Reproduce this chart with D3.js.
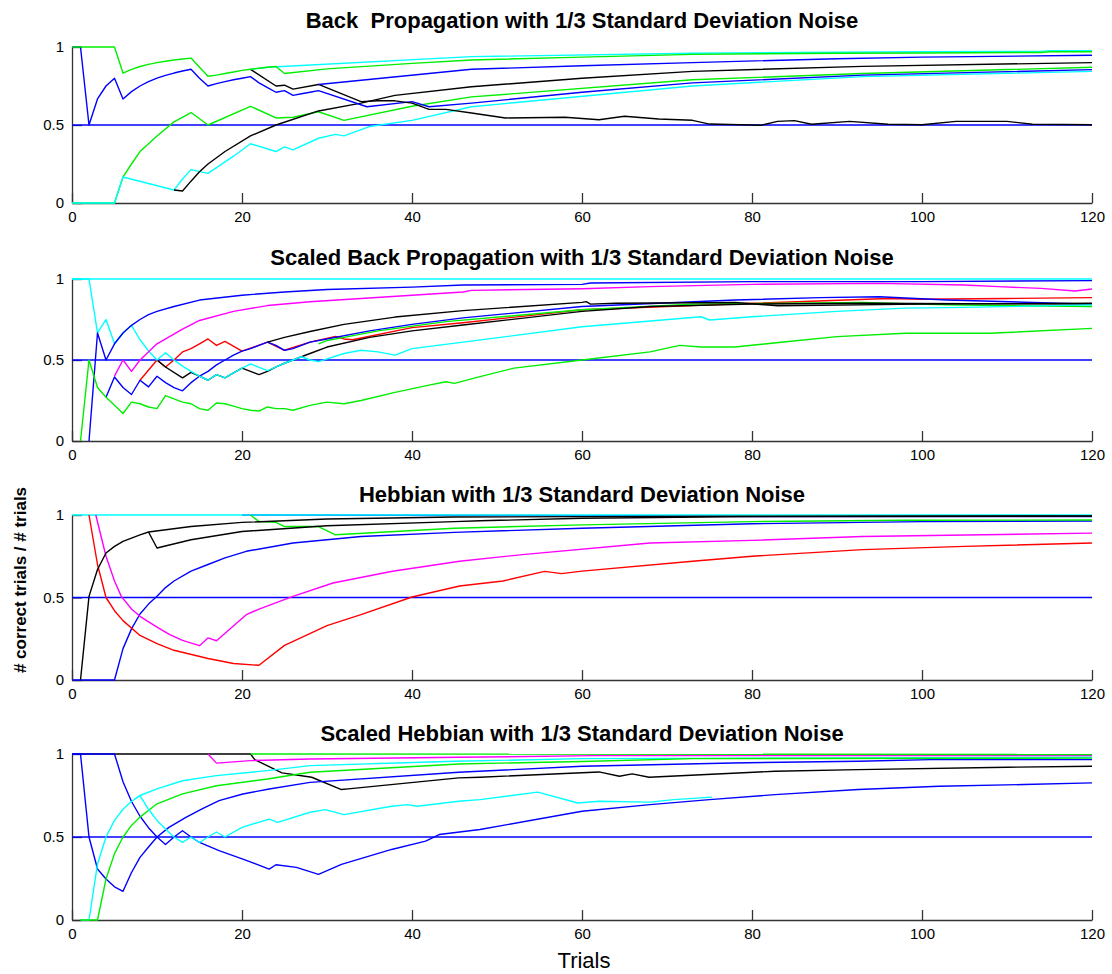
<!DOCTYPE html>
<html><head><meta charset="utf-8">
<script src="https://cdn.jsdelivr.net/npm/d3@7"></script>
<style>
body{margin:0;background:#fff}
svg{display:block;font-family:"Liberation Sans",Arial,sans-serif}
</style>
</head><body>
<svg id="c" width="1112" height="974"></svg>
<script>
// ---------- tick labels / text ----------
const xTicks = [0, 20, 40, 60, 80, 100, 120];
const yTicks = [0, 0.5, 1];
const yTickLabels = ["0", "0.5", "1"];
const titles = [
  "Back  Propagation with 1/3 Standard Deviation Noise",
  "Scaled Back Propagation with 1/3 Standard Deviation Noise",
  "Hebbian with 1/3 Standard Deviation Noise",
  "Scaled Hebbian with 1/3 Standard Deviation Noise"
];
const xLabel = "Trials";
const yLabel = "# correct trials / # trials";
const chanceLevel = [[0, 0.5], [120, 0.5]];

// ---------- Panel 1: Back Propagation ----------
const bpGreenA = [[0,1],[5,1],[6,0.833],[7,0.857],[8,0.875],[9,0.889],[10,0.9],[11,0.909],[12,0.917],[13,0.923],[14,0.929],[15,0.87],[16,0.8125],[17,0.82],[18,0.83],[19,0.84],[20,0.85],[21,0.857],[22,0.864],[23,0.87],[24,0.875],[25,0.83],[30,0.86],[40,0.895],[47,0.917],[60,0.935],[73,0.953],[90,0.96],[100,0.962],[114,0.965],[115,0.97],[120,0.97]];
const bpCyanB = [[21,0.857],[23,0.87],[47,0.938],[73,0.96],[100,0.97],[114,0.972],[115,0.977],[120,0.977]];
const bpBlueA = [[0,1],[1,1],[2,0.5],[3,0.667],[4,0.75],[5,0.8],[6,0.667],[7,0.714],[8,0.75],[9,0.778],[10,0.8],[11,0.818],[12,0.833],[13,0.846],[14,0.857],[15,0.8],[16,0.75],[17,0.765],[18,0.778],[19,0.79],[20,0.8],[21,0.81],[22,0.77],[23,0.74],[24,0.71],[25,0.72],[26,0.69],[27,0.70],[28,0.71],[29,0.72],[34.7,0.617],[40,0.65],[42,0.617],[47,0.64],[60,0.71],[73,0.77],[93,0.82],[120,0.855]];
const bpBlackB = [[21,0.857],[24,0.75],[25,0.755],[26,0.73],[29,0.76],[34,0.65],[36,0.655],[38,0.655],[40,0.64],[42,0.6],[44,0.6],[47,0.577],[51,0.545],[58,0.55],[62,0.534],[65,0.556],[69,0.538],[73,0.53],[75,0.506],[81,0.498],[83,0.523],[85,0.528],[87,0.505],[91.5,0.523],[96,0.505],[100,0.502],[104,0.523],[110,0.523],[113,0.505],[120,0.502]];
const bpBlueB = [[29,0.76],[47,0.857],[60,0.88],[73,0.9],[90,0.925],[100,0.935],[120,0.947]];
const bpBlackA = [[12,0.083],[13,0.077],[14,0.14],[15,0.2],[16,0.25],[18,0.33],[21,0.43],[24,0.5],[29,0.59],[34,0.64],[38,0.69],[47,0.745],[60,0.8],[73,0.844],[93,0.876],[120,0.9]];
const bpGreenB = [[0,0],[5,0],[6,0.167],[7,0.25],[8,0.33],[10,0.43],[12,0.52],[14,0.58],[16,0.5],[21,0.62],[24,0.545],[26,0.55],[29,0.585],[32,0.53],[40,0.62],[47,0.68],[73,0.79],[93,0.83],[120,0.87]];
const bpCyanA = [[0,0],[5,0],[6,0.167],[12,0.083],[13,0.154],[14,0.214],[16,0.19],[19,0.3],[21,0.38],[24,0.33],[25,0.36],[26,0.34],[29,0.415],[31,0.44],[32,0.43],[35,0.49],[40,0.53],[47,0.617],[73,0.75],[93,0.81],[120,0.844]];

// ---------- Panel 2: Scaled Back Propagation ----------
const sbpCyanTop = [[0,1],[120,1]];
const sbpCyanA = [[0,1],[2,1],[3,0.667],[4,0.75],[5,0.6],[6,0.667],[7,0.714],[8,0.625],[9,0.556],[10,0.5],[11,0.545],[12,0.5],[13,0.462],[14,0.43],[15,0.4],[16,0.375],[17,0.41],[18,0.39],[19,0.42],[20,0.45],[21,0.476],[22,0.455],[23,0.435],[24,0.458],[25,0.48],[26,0.5],[27,0.52],[28,0.5],[29,0.49],[32,0.54],[34,0.56],[36,0.55],[38,0.53],[40,0.57],[46,0.61],[60,0.705],[74,0.767],[75,0.747],[80,0.767],[90,0.8],[98,0.82],[103,0.823],[120,0.84]];
const sbpBlueA = [[2,0],[3,0.667],[4,0.5],[5,0.6],[6,0.667],[7,0.714],[8,0.75],[9,0.78],[10,0.8],[12,0.83],[15,0.87],[20,0.9],[25,0.92],[30,0.935],[40,0.95],[46,0.963],[60,0.967],[61,0.975],[80,0.984],[100,0.984],[120,0.99]];
const sbpGreenA = [[1,0],[2,0.5],[3,0.33],[4,0.27],[5,0.22],[6,0.17],[7,0.24],[8,0.23],[9,0.21],[10,0.2],[11,0.28],[12,0.26],[13,0.24],[14,0.23],[15,0.2],[16,0.19],[17,0.235],[18,0.23],[19,0.215],[20,0.2],[21,0.19],[22,0.185],[23,0.21],[24,0.2],[25,0.2],[26,0.19],[28,0.22],[30,0.24],[32,0.23],[34,0.25],[38,0.3],[42,0.345],[44,0.366],[45,0.356],[48,0.397],[52,0.45],[60,0.5],[68,0.55],[71.5,0.59],[74,0.58],[78,0.58],[84,0.613],[90,0.644],[98,0.665],[108,0.665],[120,0.695]];
const sbpBlueB = [[4,0.27],[5,0.395],[6,0.33],[7,0.287],[8,0.375],[9,0.334],[10,0.4],[11,0.36],[12,0.33],[13,0.31],[14,0.36],[15,0.4],[16,0.43],[17,0.47],[18,0.5],[19,0.53],[20,0.555],[21,0.57],[22,0.59],[23,0.61],[24,0.59],[25,0.56],[26,0.57],[27,0.59],[28,0.61],[30,0.63],[35,0.68],[40,0.72],[46,0.76],[60,0.83],[78,0.87],[88,0.885],[95,0.89],[103,0.87],[120,0.845]];
const sbpMagenta = [[5,0.4],[6,0.5],[7,0.43],[8,0.5],[10,0.6],[13,0.69],[15,0.744],[19,0.8],[23,0.836],[28,0.86],[46,0.92],[47,0.93],[60,0.94],[68,0.953],[80,0.967],[95,0.973],[105,0.963],[109,0.953],[114,0.942],[118,0.926],[120,0.938]];
const sbpRed = [[8,0.375],[10,0.5],[11,0.457],[12,0.5],[13,0.55],[14,0.57],[15,0.6],[16,0.63],[17,0.59],[18,0.615],[20,0.555],[23,0.61],[25,0.56],[28,0.61],[31,0.645],[32,0.63],[33,0.625],[40,0.7],[46,0.73],[60,0.81],[80,0.85],[96,0.88],[100,0.875],[110,0.88],[120,0.885]];
const sbpBlackA = [[10,0.5],[11,0.457],[13,0.39],[14,0.424],[15,0.4],[16,0.375],[17,0.41],[18,0.39],[19,0.42],[20,0.45],[21,0.43],[22,0.41],[23,0.43],[24,0.458],[25,0.48],[26,0.5],[28,0.54],[30,0.58],[35,0.64],[40,0.68],[46,0.716],[60,0.8],[68,0.83],[80,0.845],[93,0.85],[120,0.845]];
const sbpBlackB = [[23,0.61],[25,0.64],[28,0.676],[32,0.72],[38,0.765],[46,0.805],[60,0.856],[60.5,0.86],[61,0.845],[64,0.85],[78,0.855],[83,0.835],[100,0.845],[120,0.85]];
const sbpGreenB = [[29,0.6],[30,0.62],[32,0.64],[36,0.68],[44,0.737],[60,0.81],[73,0.845],[93,0.856],[103,0.84],[120,0.83]];

// ---------- Panel 3: Hebbian ----------
const hebCyan = [[0,1],[120,1]];
const hebBlueTop = [[20,1],[66,0.996],[80,0.99],[120,0.99]];
const hebBlackA = [[1,0],[2,0.507],[3,0.67],[4,0.77],[5,0.81],[6,0.84],[7,0.86],[8,0.88],[9,0.897],[14,0.93],[20,0.955],[30,0.976],[45,0.988],[60,0.99],[80,0.993],[120,0.995]];
const hebBlackB = [[9,0.897],[10,0.8],[14,0.85],[20,0.9],[30,0.935],[45,0.96],[48,0.965],[60,0.98],[80,0.99],[120,0.993]];
const hebGreen = [[21,1],[22,0.96],[24,0.955],[25,0.93],[29,0.93],[31,0.88],[45,0.92],[60,0.94],[80,0.96],[98,0.968],[120,0.97]];
const hebBlue = [[0,0],[5,0],[6,0.19],[7,0.31],[8,0.4],[9,0.46],[10,0.507],[11,0.56],[12,0.6],[14,0.66],[16,0.7],[18,0.74],[20.5,0.78],[26,0.83],[34,0.87],[45,0.895],[60,0.92],[80,0.947],[100,0.96],[120,0.964]];
const hebMagenta = [[2.8,1],[4,0.75],[5,0.6],[5.8,0.507],[7,0.43],[8,0.386],[10,0.32],[11.5,0.275],[13,0.24],[15,0.208],[16,0.255],[17,0.238],[20.5,0.396],[22,0.43],[26,0.507],[30.7,0.588],[37.7,0.659],[45.6,0.72],[53,0.76],[68,0.83],[80,0.846],[93,0.87],[120,0.89]];
const hebRed = [[2,1],[3,0.7],[4,0.5],[5,0.42],[6,0.36],[8,0.27],[10,0.22],[12,0.18],[16,0.13],[19,0.1],[22,0.089],[25,0.21],[30,0.33],[34,0.396],[40,0.503],[45.6,0.57],[50.7,0.6],[55.6,0.658],[57.6,0.645],[60,0.66],[73,0.72],[80,0.75],[93,0.79],[105,0.81],[120,0.83]];

// ---------- Panel 4: Scaled Hebbian ----------
const shebBlack = [[0,1],[21,1],[21.5,0.966],[24.7,0.886],[27.4,0.866],[28.2,0.86],[31.7,0.786],[32.5,0.79],[45.5,0.856],[48,0.86],[62,0.892],[64.4,0.866],[65.9,0.88],[67.9,0.86],[72.8,0.872],[82.7,0.896],[92.5,0.906],[110,0.92],[120,0.926]];
const shebGreenTop = [[21,1],[120,0.997]];
const shebMagenta = [[16,1],[17,0.945],[21,0.96],[28,0.97],[45.5,0.98],[61.4,0.99],[120,0.99]];
const shebBlueA = [[0,1],[1,1],[2,0.5],[3,0.307],[4,0.247],[5,0.2],[6,0.173],[7,0.286],[8,0.377],[9,0.44],[10,0.5],[11.4,0.558],[13.4,0.618],[15.3,0.669],[17.3,0.719],[20.1,0.759],[23.2,0.789],[28,0.829],[45.5,0.89],[60,0.926],[77.7,0.946],[92.5,0.956],[101,0.966],[120,0.966]];
const shebBlueB = [[0,1],[5,1],[6,0.833],[7,0.714],[8,0.625],[9,0.556],[10,0.5],[11,0.455],[12,0.5],[13,0.538],[14,0.5],[15,0.467],[17.3,0.418],[20.1,0.367],[23.2,0.307],[24,0.333],[26.4,0.317],[29,0.275],[31.7,0.335],[37.6,0.425],[41.6,0.475],[43.2,0.515],[48,0.545],[60,0.655],[68,0.695],[75,0.725],[82.7,0.755],[92.5,0.786],[102,0.806],[112,0.816],[120,0.826]];
const shebCyanA = [[1,0],[2,0],[3,0.337],[4,0.5],[5,0.6],[6,0.667],[7,0.714],[8,0.75],[10,0.79],[13,0.839],[17,0.87],[23,0.9],[28,0.93],[45,0.956],[60,0.972],[120,0.98]];
const shebGreenA = [[1,0],[3,0],[4,0.247],[5,0.4],[6,0.5],[7,0.57],[8,0.62],[10,0.7],[13,0.76],[17,0.809],[23,0.849],[28,0.89],[45.5,0.94],[60,0.955],[73,0.972],[120,0.975]];
const shebCyanB = [[7.4,0.729],[8,0.749],[9,0.667],[10,0.6],[11,0.548],[12,0.5],[13,0.468],[14,0.5],[15,0.467],[16,0.5],[17,0.53],[18,0.5],[20,0.558],[23.2,0.608],[24.2,0.588],[28,0.649],[29.8,0.665],[32,0.635],[37.6,0.685],[39.5,0.695],[40.6,0.685],[45.5,0.715],[48,0.725],[54.8,0.77],[59.5,0.705],[62,0.715],[68,0.71],[70.8,0.725],[75.3,0.74]];

// ---------- colours ----------
const C = {b:"#0000ff", g:"#00ee00", r:"#ff0000", c:"#00ffff", m:"#ff00ff", k:"#000000"};

const panels = [
  {title: titles[0], yTop: 47, yBot: 203, titleY: 28, series: [
    [bpGreenB,C.g],[bpCyanA,C.c],[bpBlackA,C.k],[bpBlueA,C.b],[bpBlackB,C.k],[bpBlueB,C.b],[bpCyanB,C.c],[bpGreenA,C.g]]},
  {title: titles[1], yTop: 279, yBot: 441, titleY: 265, series: [
    [sbpRed,C.r],[sbpBlueB,C.b],[sbpGreenB,C.g],[sbpBlackB,C.k],[sbpBlackA,C.k],[sbpCyanA,C.c],[sbpMagenta,C.m],[sbpBlueA,C.b],[sbpGreenA,C.g],[sbpCyanTop,C.c]]},
  {title: titles[2], yTop: 515, yBot: 680, titleY: 502, series: [
    [hebBlueTop,C.b],[hebCyan,C.c],[hebBlue,C.b],[hebRed,C.r],[hebMagenta,C.m],[hebGreen,C.g],[hebBlackB,C.k],[hebBlackA,C.k]]},
  {title: titles[3], yTop: 754, yBot: 920, titleY: 741, series: [
    [shebBlack,C.k],[shebBlueA,C.b],[shebBlueB,C.b],[shebCyanA,C.c],[shebGreenA,C.g],[shebCyanB,C.c],[shebMagenta,C.m],[shebGreenTop,C.g]]}
];

const svg = d3.select("#c");
svg.append("rect").attr("width",1112).attr("height",974).attr("fill","#fff");
const x = d3.scaleLinear().domain([0,120]).range([72,1092]);

panels.forEach(p => {
  const y = d3.scaleLinear().domain([0,1]).range([p.yBot, p.yTop]);
  const g = svg.append("g");
  const line = d3.line().x(d => x(d[0])).y(d => y(d[1]));

  const ax = g.append("g").attr("transform", `translate(0,${p.yBot})`)
    .call(d3.axisBottom(x).tickValues(xTicks).tickSizeInner(-10).tickSizeOuter(0).tickPadding(8).tickFormat(d3.format("d")));
  const ay = g.append("g").attr("transform", `translate(${x(0)},0)`)
    .call(d3.axisLeft(y).tickValues(yTicks).tickSizeInner(-10).tickSizeOuter(0).tickPadding(8).tickFormat((d,i) => yTickLabels[i]));
  [ax, ay].forEach(a => {
    a.select(".domain").attr("stroke","#333").attr("stroke-width",1.3);
    a.selectAll(".tick line").attr("stroke","#333").attr("stroke-width",1.3);
    a.selectAll(".tick text").attr("fill","#000").style("font-size","15px").style("font-family","'Liberation Sans',Arial,sans-serif");
  });

  g.append("path").datum(chanceLevel).attr("d", line)
    .attr("fill","none").attr("stroke",C.b).attr("stroke-width",1.4);

  p.series.forEach(([data, col]) => {
    g.append("path").datum(data).attr("d", line)
      .attr("fill","none").attr("stroke", col).attr("stroke-width",1.4)
      .attr("stroke-linejoin","round");
  });

  svg.append("text").attr("x", 582).attr("y", p.titleY)
    .attr("text-anchor","middle").style("font-size","22px").style("font-weight","bold")
    .style("white-space","pre").attr("xml:space","preserve")
    .text(p.title);
});

svg.append("text").attr("x", 584).attr("y", 968).attr("text-anchor","middle")
  .style("font-size","22px").text(xLabel);
svg.append("text").attr("transform","translate(26,580) rotate(-90)").attr("text-anchor","middle")
  .style("font-size","17px").style("font-weight","bold").text(yLabel);
</script>
</body></html>
